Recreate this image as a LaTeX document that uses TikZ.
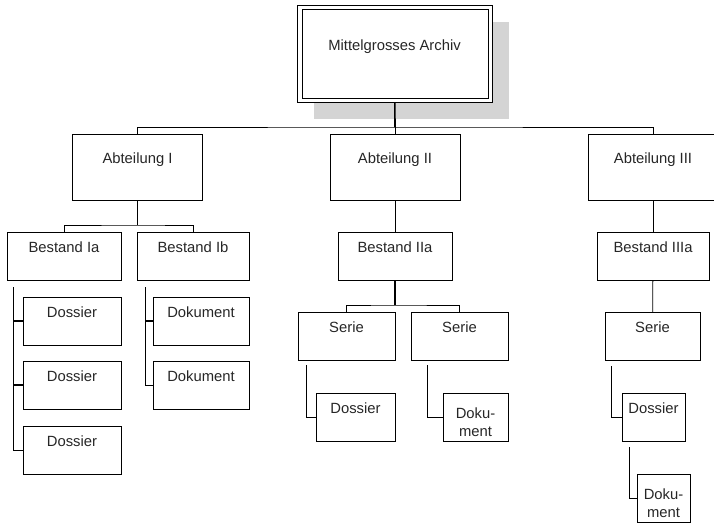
\documentclass[tikz,border=0pt]{standalone}
\usepackage{fontspec}
\setmainfont{Liberation Sans}
\usetikzlibrary{positioning}

\begin{document}
\begin{tikzpicture}[x=1pt,y=-1pt,line width=0.8pt,
    font=\fontsize{14.8}{18}\selectfont,
    every node/.style={draw, anchor=north, inner sep=0pt, outer sep=0pt, text=black!85},
    abt/.style={minimum width=130pt, text height=29pt, text depth=37pt},
    unit/.style={minimum width=#1, text height=20pt, text depth=28pt},
    twoline/.style={minimum width=#1, text height=25pt, text depth=23pt},
    trunk/.style={line width=1.6pt}]
      \useasboundingbox (0,0) rectangle (714,523);

      % Archiv with shadow
      \fill[black!17] (314,22) rectangle (509,119);
      \node[fill=white, minimum width=195pt,
            text height=45pt, text depth=52pt] (top) at (394.5,5) {Mittelgrosses Archiv};
      \draw ([xshift=5pt,yshift=-4pt]top.north west) rectangle ([xshift=-4pt,yshift=4pt]top.south east);

      \node[abt] (A1) at (137.5,134) {Abteilung I};
      \node[abt] (A2) at (395,134)   {Abteilung II};
      \node[abt] (A3) at (653,134)   {Abteilung III};

      \node[unit=114pt] (B1a) at (64,232)  {Bestand Ia};
      \node[unit=112pt] (B1b) at (193,232) {Bestand Ib};
      \node[unit=114pt] (B2a) at (395,232) {Bestand IIa};
      \node[unit=112pt] (B3a) at (653,232) {Bestand IIIa};

      \node[unit=98pt] (D1a) at (72,297) {Dossier};
      \node[unit=98pt] (D1b) at (72,361) {Dossier};
      \node[unit=98pt] (D1c) at (72,426) {Dossier};

      \node[unit=96pt] (K1a) at (201,297) {Dokument};
      \node[unit=96pt] (K1b) at (201,361) {Dokument};

      \node[unit=97pt] (S1) at (346.5,312) {Serie};
      \node[unit=97pt] (S2) at (459.5,312) {Serie};
      \node[unit=95pt] (S3) at (652.5,312) {Serie};

      \node[unit=79pt] (D2) at (355.5,393) {Dossier};
      \node[twoline=65pt] (K2) at (475.5,393) {\begin{tabular}[t]{@{}c@{}}Doku-\\ment\end{tabular}};
      \node[unit=63pt] (D3) at (653.5,393) {Dossier};
      \node[twoline=53pt] (K3) at (663.5,474) {\begin{tabular}[t]{@{}c@{}}Doku-\\ment\end{tabular}};

      % top level
      \coordinate (hub) at (395,127);
      \draw[trunk] (top) -- (hub);
      \draw (A1.north) |- (hub) -| (A3.north);
      \draw (hub) -- (A2.north);

      % Abteilung I
      \draw[trunk] (A1.south) -- ++(0,25) coordinate (j1);
      \draw (B1a.north) |- (j1) -| (B1b.north);
      \coordinate (t1) at ([xshift=6pt,yshift=-7pt]B1a.south west);
      \draw (t1) |- (D1c.west);
      \draw[trunk] (D1a.west) -- (D1a.west -| t1);
      \draw[trunk] (D1b.west) -- (D1b.west -| t1);
      \coordinate (t2) at ([xshift=8.5pt,yshift=-7pt]B1b.south west);
      \draw (t2) |- (K1b.west);
      \draw[trunk] (K1a.west) -- (K1a.west -| t2);

      % Abteilung II
      \draw (A2) -- (B2a);
      \draw[trunk] (B2a.south) -- ++(0,25) coordinate (j2);
      \draw (S1.north) |- (j2) -| (S2.north);
      \draw ([xshift=8pt,yshift=-5pt]S1.south west) |- (D2.west);
      \draw ([xshift=16pt,yshift=-5pt]S2.south west) |- (K2.west);

      % Abteilung III
      \draw (A3) -- (B3a);
      \draw (B3a) -- (S3);
      \draw ([xshift=6pt,yshift=-6pt]S3.south west) |- (D3.west);
      \draw ([xshift=7pt,yshift=-6pt]D3.south west) |- (K3.west);
    \end{tikzpicture}
\end{document}
